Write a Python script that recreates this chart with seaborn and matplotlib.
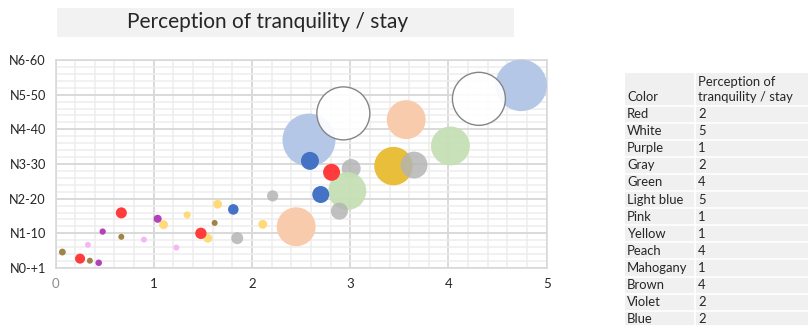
import matplotlib
matplotlib.use("Agg")
import matplotlib.pyplot as plt
from matplotlib.patches import Rectangle
from matplotlib.ticker import MultipleLocator
import numpy as np
import pandas as pd
import seaborn as sns

# ---- bubble data (drawn bottom to top in this order) ----
bubble_x = [2.58, 4.74, 2.93, 4.31, 2.45, 3.57, 4.02, 3.44, 3.65, 3.01,
            2.97, 2.89, 2.81, 2.59, 2.70, 2.21, 1.85, 2.11, 1.81, 1.65,
            1.62, 1.55, 1.48, 1.34, 1.23, 1.10, 1.04, 0.90, 0.67, 0.67,
            0.48, 0.33, 0.07, 0.25, 0.35, 0.44]
bubble_y = [3.69, 5.27, 4.46, 4.88, 1.19, 4.28, 3.52, 2.94, 2.97, 2.87,
            2.22, 1.64, 2.76, 3.09, 2.12, 2.08, 0.86, 1.26, 1.69, 1.84,
            1.30, 0.86, 1.00, 1.53, 0.59, 1.25, 1.42, 0.82, 1.59, 0.90,
            1.05, 0.67, 0.46, 0.27, 0.21, 0.15]
bubble_n = [78, 74, 78, 78, 42, 42, 42, 41, 20, 10,
            40, 8, 8, 9, 8, 3.5, 4, 2.2, 3.1, 2.2,
            1, 2.2, 3.6, 1.4, 1, 2.2, 1.8, 1, 3.4, 1,
            1.1, 1, 1.3, 2.8, 1, 1.2]
bubble_color = ["Light blue", "Light blue", "White", "White", "Peach", "Peach",
                "Green", "Gold", "Gray", "Gray", "Green", "Gray", "Red", "Blue",
                "Blue", "Gray", "Gray", "Yellow", "Blue", "Yellow", "Brown",
                "Yellow", "Red", "Yellow", "Pink", "Yellow", "Purple", "Pink",
                "Red", "Brown", "Purple", "Pink", "Brown", "Red", "Brown", "Purple"]

y_tick_labels = ["N0-+1", "N1-10", "N2-20", "N3-30", "N4-40", "N5-50", "N6-60"]
x_tick_labels = ["0", "1", "2", "3", "4", "5"]

# ---- side table ----
table_colors = ["Red", "White", "Purple", "Gray", "Green", "Light blue", "Pink",
                "Yellow", "Peach", "Mahogany", "Brown", "Violet", "Blue"]
table_scores = [2, 5, 1, 2, 4, 5, 1, 1, 4, 1, 4, 2, 2]

palette = {
    "Light blue": (0.706, 0.780, 0.906, 1.0),
    "White": (1.0, 1.0, 1.0, 0.9),
    "Peach": (0.973, 0.796, 0.678, 1.0),
    "Green": (0.773, 0.878, 0.706, 0.95),
    "Gold": (0.910, 0.745, 0.230, 1.0),
    "Gray": (0.70, 0.70, 0.70, 0.82),
    "Red": (1.0, 0.23, 0.23, 1.0),
    "Blue": (0.267, 0.447, 0.769, 1.0),
    "Yellow": (1.0, 0.855, 0.48, 1.0),
    "Brown": (0.62, 0.52, 0.28, 1.0),
    "Pink": (0.96, 0.72, 0.96, 1.0),
    "Purple": (0.70, 0.26, 0.73, 1.0),
}

df = pd.DataFrame({"x": bubble_x, "y": bubble_y, "n": bubble_n, "color": bubble_color})

FONT = ["Lato", "DejaVu Sans"]
sns.set_theme(style="white")
plt.rcParams["font.family"] = FONT

W, H = 808, 325
fig = plt.figure(figsize=(W / 100, H / 100), dpi=100)
fig.patch.set_facecolor("white")

x0, x1, y0, y1 = 55.5, 546.7, 268, 60
ax = fig.add_axes([x0 / W, 1 - y0 / H, (x1 - x0) / W, (y0 - y1) / H])

# bubble area proportional to n: radius 3 px for n = 1
unit = (2 * 3 * 0.72) ** 2
edgecols = ["#858585" if c == "White" else "none" for c in bubble_color]
lws = [1.0 if c == "White" else 0.0 for c in bubble_color]
sns.scatterplot(data=df, x="x", y="y", hue="color", palette=palette,
                size="n", sizes=(unit * 1, unit * 78), size_norm=(1, 78),
                edgecolor=edgecols, linewidth=lws, legend=False, ax=ax,
                clip_on=False, zorder=3)

ax.set_xlim(0, 5)
ax.set_ylim(0, 6)
ax.set_xticks(range(6))
ax.set_xticklabels(x_tick_labels)
ax.set_yticks(range(7))
ax.set_yticklabels(y_tick_labels)
ax.xaxis.set_minor_locator(MultipleLocator(0.2))
ax.yaxis.set_minor_locator(MultipleLocator(0.2))
ax.grid(which="major", color="#D9D9D9", linewidth=1.4)
ax.grid(which="minor", color="#EDEDED", linewidth=1.1)
ax.set_axisbelow(True)
ax.tick_params(which="both", length=0)
ax.tick_params(axis="x", pad=7, labelsize=9.5, labelcolor="#262626")
ax.tick_params(axis="y", pad=7, labelsize=9.2, labelcolor="#262626")
ax.get_xticklabels()[0].set_color("#8C8C8C")
for s in ax.spines.values():
    s.set_color("#D9D9D9")
    s.set_linewidth(1.2)
ax.set_xlabel("")
ax.set_ylabel("")

# title band
fig.add_artist(Rectangle((57 / W, 1 - 37 / H), (514 - 57) / W, 29 / H,
                         transform=fig.transFigure, facecolor="#F2F2F2",
                         edgecolor="none"))
fig.text(268 / W, 1 - 22 / H, "Perception of tranquility / stay", ha="center",
         va="center", fontsize=15, color="#262626")

# side table
tx0, tsplit, tx1 = 625, 695, 812
head_top, head_bot = 73, 105.5
row_h = 17.1
n_rows = len(table_colors)
fig.add_artist(Rectangle((tx0 / W, 0), (tx1 - tx0) / W, 1 - head_top / H,
                         transform=fig.transFigure, facecolor="#F0F0F0", edgecolor="none"))
fig.add_artist(plt.Line2D([tsplit / W, tsplit / W], [1 - head_top / H, 0],
                          transform=fig.transFigure, color="white", lw=1.2))
for i in range(n_rows):
    yy = head_bot + row_h * i
    fig.add_artist(plt.Line2D([tx0 / W, tx1 / W], [1 - yy / H, 1 - yy / H],
                              transform=fig.transFigure, color="white", lw=1.2))
tk = dict(fontsize=9.4, color="#262626", va="center", ha="left")
fig.text(627 / W, 1 - 97 / H, "Color", **tk)
fig.text(698 / W, 1 - 81.5 / H, "Perception of", **tk)
fig.text(698 / W, 1 - 97 / H, "tranquility / stay", **tk)
for i, (c, v) in enumerate(zip(table_colors, table_scores)):
    yc = head_bot + row_h * (i + 0.5)
    fig.text(627 / W, 1 - yc / H, c, **tk)
    fig.text(698 / W, 1 - yc / H, str(v), **tk)

fig.savefig("out.png", dpi=100)
